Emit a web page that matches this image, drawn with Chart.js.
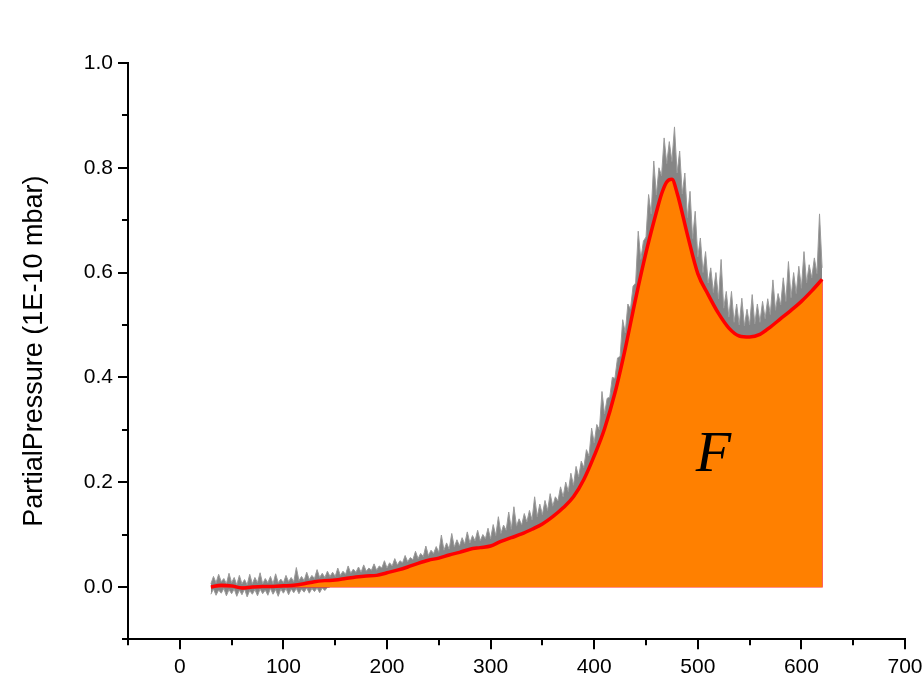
<!DOCTYPE html>
<html>
<head>
<meta charset="utf-8">
<script src="https://cdn.jsdelivr.net/npm/chart.js@4.4.0/dist/chart.umd.min.js"></script>
<style>
  html, body { margin: 0; padding: 0; background: #fff; }
  #wrap { width: 924px; height: 697px; }
</style>
</head>
<body>
<div id="wrap"><canvas id="chart" width="924" height="697"></canvas></div>
<script>
// smoothed curve (red)
const smoothX = [30, 40, 50, 60, 70, 80, 90, 100, 110, 120, 130, 140, 150, 160, 170, 180, 190, 200,
  210, 220, 230, 240, 250, 260, 270, 280, 290, 300, 310, 320, 330, 340, 350, 360, 370, 380, 390, 400,
  410, 420, 430, 440, 450, 460, 465, 470, 475, 480, 490, 500, 510, 520, 530, 540, 550, 560, 570, 580,
  590, 600, 610, 620];
const smoothY = [0.000, 0.003, 0.002, -0.002, 0.000, 0.001, 0.001, 0.002, 0.003, 0.006, 0.010, 0.012,
  0.013, 0.016, 0.019, 0.021, 0.022, 0.027, 0.032, 0.038, 0.045, 0.051, 0.055, 0.061, 0.066, 0.072,
  0.075, 0.078, 0.087, 0.094, 0.101, 0.110, 0.120, 0.134, 0.151, 0.172, 0.205, 0.250, 0.302, 0.370,
  0.455, 0.550, 0.638, 0.715, 0.750, 0.773, 0.778, 0.752, 0.672, 0.598, 0.558, 0.522, 0.494, 0.479,
  0.477, 0.482, 0.496, 0.512, 0.528, 0.545, 0.565, 0.587];

// raw signal: upper edge of the noise (grey), one value every 2.5 units from 30 to 620
const rawX0 = 30, rawStep = 2.5;
const rawTop = [
  0.006, 0.020, 0.008, 0.024, 0.010, 0.016, 0.006, 0.026, 0.008, 0.018,
  0.004, 0.022, 0.006, 0.014, 0.004, 0.024, 0.006, 0.018, 0.008, 0.027,
  0.006, 0.016, 0.008, 0.020, 0.006, 0.025, 0.008, 0.015, 0.008, 0.022,
  0.010, 0.018, 0.010, 0.037, 0.012, 0.020, 0.012, 0.028, 0.014, 0.022,
  0.016, 0.033, 0.018, 0.026, 0.018,
  0.030, 0.020, 0.028, 0.020, 0.036, 0.022, 0.030, 0.024, 0.040, 0.026,
  0.034, 0.028, 0.038, 0.028, 0.042, 0.030, 0.036, 0.032, 0.044, 0.032,
  0.040, 0.036, 0.050, 0.036, 0.046, 0.040, 0.054, 0.042, 0.050, 0.046,
  0.060, 0.048, 0.056, 0.052, 0.068, 0.054, 0.064, 0.058, 0.078, 0.060,
  0.070, 0.064, 0.077, 0.066,
  0.099, 0.070, 0.084, 0.072, 0.102, 0.076, 0.090, 0.078, 0.094, 0.082,
  0.105, 0.084, 0.098, 0.088, 0.108, 0.088, 0.100, 0.092, 0.112, 0.092,
  0.119, 0.098, 0.134, 0.102, 0.118, 0.108, 0.143, 0.110, 0.153, 0.116,
  0.130, 0.118, 0.140, 0.124, 0.146, 0.128, 0.172, 0.134, 0.158, 0.138,
  0.165, 0.146, 0.178, 0.154, 0.172, 0.164, 0.191, 0.172, 0.200, 0.182,
  0.217, 0.194, 0.230, 0.210, 0.240, 0.228, 0.262, 0.250, 0.303, 0.275,
  0.310, 0.300, 0.373, 0.330, 0.360, 0.362, 0.400, 0.398, 0.437, 0.440,
  0.510, 0.485, 0.540, 0.530, 0.574, 0.580, 0.679, 0.625, 0.660, 0.668,
  0.749, 0.712, 0.813, 0.748, 0.800, 0.785, 0.857, 0.808, 0.850, 0.812,
  0.878, 0.790, 0.832, 0.750, 0.790, 0.705, 0.755, 0.665, 0.717, 0.630,
  0.666, 0.600, 0.640, 0.580, 0.609, 0.562, 0.600, 0.550, 0.625, 0.532,
  0.564, 0.515, 0.564, 0.505, 0.540, 0.500, 0.551, 0.498, 0.530, 0.500,
  0.558, 0.502, 0.540, 0.505, 0.545, 0.512, 0.550, 0.520, 0.586, 0.528,
  0.560, 0.538, 0.590, 0.545, 0.621, 0.552, 0.600, 0.560, 0.612, 0.570,
  0.640, 0.580, 0.615, 0.590, 0.628, 0.598, 0.712, 0.609];
// lower edge of the noise where it dips below zero (30 to 145)
const rawBottom = [
  -0.014, -0.004, -0.016, -0.006, -0.012, -0.003, -0.017, -0.005, -0.013, -0.004,
  -0.018, -0.006, -0.015, -0.004, -0.019, -0.007, -0.014, -0.005, -0.017, -0.004,
  -0.013, -0.006, -0.016, -0.003, -0.014, -0.005, -0.018, -0.004, -0.012, -0.003,
  -0.015, -0.004, -0.011, -0.003, -0.013, -0.004, -0.010, -0.002, -0.012, -0.003,
  -0.009, -0.002, -0.011, -0.002, -0.007, -0.001, 0.000];

const xTickLabels = ['0', '100', '200', '300', '400', '500', '600', '700'];
const yTickLabels = ['0.0', '0.2', '0.4', '0.6', '0.8', '1.0'];
const areaLabel = 'F';

const toPts = (xs, ys) => ys.map((y, i) => ({ x: xs[i], y: y }));
const rawXs = rawTop.map((_, i) => rawX0 + i * rawStep);
const rawBottomXs = rawBottom.map((_, i) => rawX0 + i * rawStep);

const smoothPts = toPts(smoothX, smoothY);
const lastX = smoothX[smoothX.length - 1];
const outline = [{ x: smoothX[0], y: 0 }, { x: lastX, y: 0 }, { x: lastX, y: smoothY[smoothY.length - 1] }];

const isMinorX = (v) => Math.abs(v % 100) === 50;
const isMinorY = (v) => Math.abs(Math.round(v * 10)) % 2 === 1;

// shorter minor ticks + the "F" inside the filled area
const extras = {
  id: 'extras',
  afterDatasetsDraw(chart) {
    const { ctx, scales } = chart;
    ctx.save();
    ctx.font = 'italic 58px "Liberation Serif", "DejaVu Serif", serif';
    ctx.fillStyle = '#000';
    ctx.textAlign = 'center';
    ctx.textBaseline = 'middle';
    ctx.fillText(areaLabel, scales.x.getPixelForValue(515), scales.y.getPixelForValue(0.25));
    ctx.restore();
  },
  afterDraw(chart) {
    const { ctx, scales, chartArea } = chart;
    ctx.save();
    ctx.strokeStyle = '#000';
    ctx.lineWidth = 2;
    ctx.beginPath();
    scales.x.ticks.forEach(t => {
      if (!isMinorX(t.value)) return;
      const px = Math.round(scales.x.getPixelForValue(t.value));
      ctx.moveTo(px, chartArea.bottom);
      ctx.lineTo(px, chartArea.bottom + 6);
    });
    scales.y.ticks.forEach(t => {
      if (!isMinorY(t.value)) return;
      const py = Math.round(scales.y.getPixelForValue(t.value));
      ctx.moveTo(chartArea.left, py);
      ctx.lineTo(chartArea.left - 6, py);
    });
    ctx.stroke();
    ctx.restore();
  }
};

new Chart(document.getElementById('chart'), {
  type: 'line',
  data: {
    datasets: [
      {
        data: smoothPts,
        borderColor: '#ff0000',
        borderWidth: 3.5,
        backgroundColor: '#ff8000',
        fill: 'origin',
        pointRadius: 0,
        cubicInterpolationMode: 'monotone',
        order: 0
      },
      {
        data: outline,
        borderColor: '#ff2020',
        borderWidth: 1.2,
        pointRadius: 0,
        fill: false,
        order: 1
      },
      {
        data: toPts(rawXs, rawTop),
        borderColor: '#9a9a9a',
        borderWidth: 1,
        backgroundColor: '#858585',
        fill: 'origin',
        pointRadius: 0,
        tension: 0,
        order: 2
      },
      {
        data: toPts(rawBottomXs, rawBottom),
        borderColor: '#9a9a9a',
        borderWidth: 1,
        backgroundColor: '#858585',
        fill: 'origin',
        pointRadius: 0,
        tension: 0,
        order: 3
      }
    ]
  },
  options: {
    responsive: false,
    animation: false,
    layout: { padding: { left: 18, top: 63, right: 0, bottom: 12.5 } },
    plugins: { legend: { display: false }, tooltip: { enabled: false } },
    scales: {
      x: {
        type: 'linear',
        min: -50,
        max: 700,
        border: { display: true, color: '#000', width: 2 },
        grid: {
          drawOnChartArea: false, drawTicks: true, tickLength: 10, lineWidth: 2,
          tickColor: (c) => (c.tick && isMinorX(c.tick.value)) ? 'rgba(0,0,0,0)' : '#000'
        },
        ticks: {
          stepSize: 50,
          color: '#000',
          padding: 5,
          maxRotation: 0,
          font: { family: '"Liberation Sans", Arial, sans-serif', size: 21 },
          callback: (v) => (v >= 0 && v % 100 === 0) ? xTickLabels[v / 100] : ''
        },
        afterFit: (s) => { s.paddingRight = 19; }
      },
      y: {
        min: -0.1,
        max: 1.0,
        border: { display: true, color: '#000', width: 2 },
        grid: {
          drawOnChartArea: false, drawTicks: true, tickLength: 10, lineWidth: 2,
          tickColor: (c) => (c.tick && isMinorY(c.tick.value)) ? 'rgba(0,0,0,0)' : '#000'
        },
        ticks: {
          stepSize: 0.1,
          color: '#000',
          padding: 5,
          font: { family: '"Liberation Sans", Arial, sans-serif', size: 21 },
          callback: (v) => {
            const k = Math.round(v * 10);
            return (k >= 0 && k % 2 === 0) ? yTickLabels[k / 2] : '';
          }
        },
        title: {
          display: true,
          text: 'PartialPressure (1E-10 mbar)',
          color: '#000',
          padding: 0,
          font: { family: '"Liberation Sans", Arial, sans-serif', size: 27 }
        },
        afterFit: (s) => { s.width = 110; }
      }
    }
  },
  plugins: [extras]
});
</script>
</body>
</html>
